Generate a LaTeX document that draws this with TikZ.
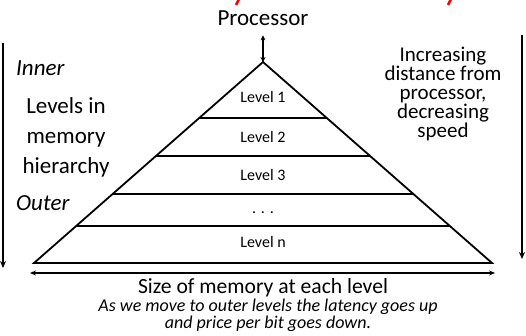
\documentclass[tikz,border=0pt]{standalone}
\usepackage{fontspec}
\setmainfont{Carlito}
\usetikzlibrary{calc}
\usetikzlibrary{arrows.meta}
\tikzset{ lvl_lbl/.style = {anchor=base, font=\fontsize{16}{18}\selectfont} }
\tikzset{ side_txt/.style = {anchor=base, align=center, inner sep=0pt} }
\tikzset{ big_arr/.style = {line width=1.8pt, -{Stealth[length=7pt,width=6pt]}} }
\tikzset{ pyr/.style = {line width=1.8pt, line join=miter} }

\begin{document}
\begin{tikzpicture}[x=1pt, y=-1pt]
        \useasboundingbox (0,0) rectangle (526,335);
        % cut-off red title strokes
        \draw[red, line width=2.5pt] (239,-1) -- (236,5);
        \draw[red, line width=2.5pt] (451,-1) -- (448,5);
        % processor and pyramid
        \node[anchor=base, inner sep=0pt, font=\fontsize{23}{26}\selectfont] (proc) at (263,25) {Processor};
        \coordinate (apex) at (263,62);
        \coordinate (bl) at (34,263);
        \coordinate (br) at (492,263);
        \coordinate (ptop) at ($(proc.south)+(0,10)$);
        \draw[line width=1.5pt, {Stealth[length=5pt,width=5pt]}-{Stealth[length=5pt,width=5pt]}] (ptop) -- (apex);
        \draw[pyr] (apex) -- (bl) -- (br) -- cycle;
        \draw[pyr] ($(apex)!0.2786!(bl)$) -- ($(apex)!0.2786!(br)$);
        \draw[pyr] ($(apex)!0.4677!(bl)$) -- ($(apex)!0.4677!(br)$);
        \draw[pyr] ($(apex)!0.6567!(bl)$) -- ($(apex)!0.6567!(br)$);
        \draw[pyr] ($(apex)!0.8159!(bl)$) -- ($(apex)!0.8159!(br)$);
        \node[lvl_lbl] (l1) at (263,102) {Level 1};
        \node[lvl_lbl] (l2) at (263,142) {Level 2};
        \node[lvl_lbl] (l3) at (263,180) {Level 3};
        \node[lvl_lbl] (ld) at (263,213) {. . .};
        \node[lvl_lbl] (ln) at (263,247) {Level n};
        % size arrow and captions
        \coordinate (sl) at (30,273);
        \coordinate (sr) at (495,273);
        \draw[line width=1.5pt, {Stealth[length=6pt,width=5pt]}-{Stealth[length=6pt,width=5pt]}] (sl) -- (sr);
        \node[side_txt, font=\fontsize{21.6}{24}\selectfont] (size) at (263,293) {Size of memory at each level};
        \node[side_txt, font=\fontsize{18}{16.5}\selectfont\itshape] (note) at (268,328) {As we move to outer levels the latency goes up\\and price per bit goes down.};
        % left side
        \coordinate (lt) at (3,43);
        \coordinate (lb) at (3,268);
        \draw[big_arr] (lt) -- (lb);
        \node[side_txt, anchor=base west, font=\fontsize{23}{26}\selectfont\itshape] (inner) at (16,75) {Inner};
        \node[side_txt, font=\fontsize{23}{30}\selectfont] (lvls) at (66,173) {Levels in\\memory\\hierarchy};
        \node[side_txt, anchor=base west, font=\fontsize{23}{26}\selectfont\itshape] (outer) at (16,210) {Outer};
        % right side
        \coordinate (rt) at (522,35);
        \coordinate (rb) at (522,259);
        \draw[big_arr] (rt) -- (rb);
        \node[side_txt, font=\fontsize{21}{18.8}\selectfont] (dist) at (443,137) {Increasing\\distance from\\processor,\\decreasing\\speed};
    \end{tikzpicture}
\end{document}
